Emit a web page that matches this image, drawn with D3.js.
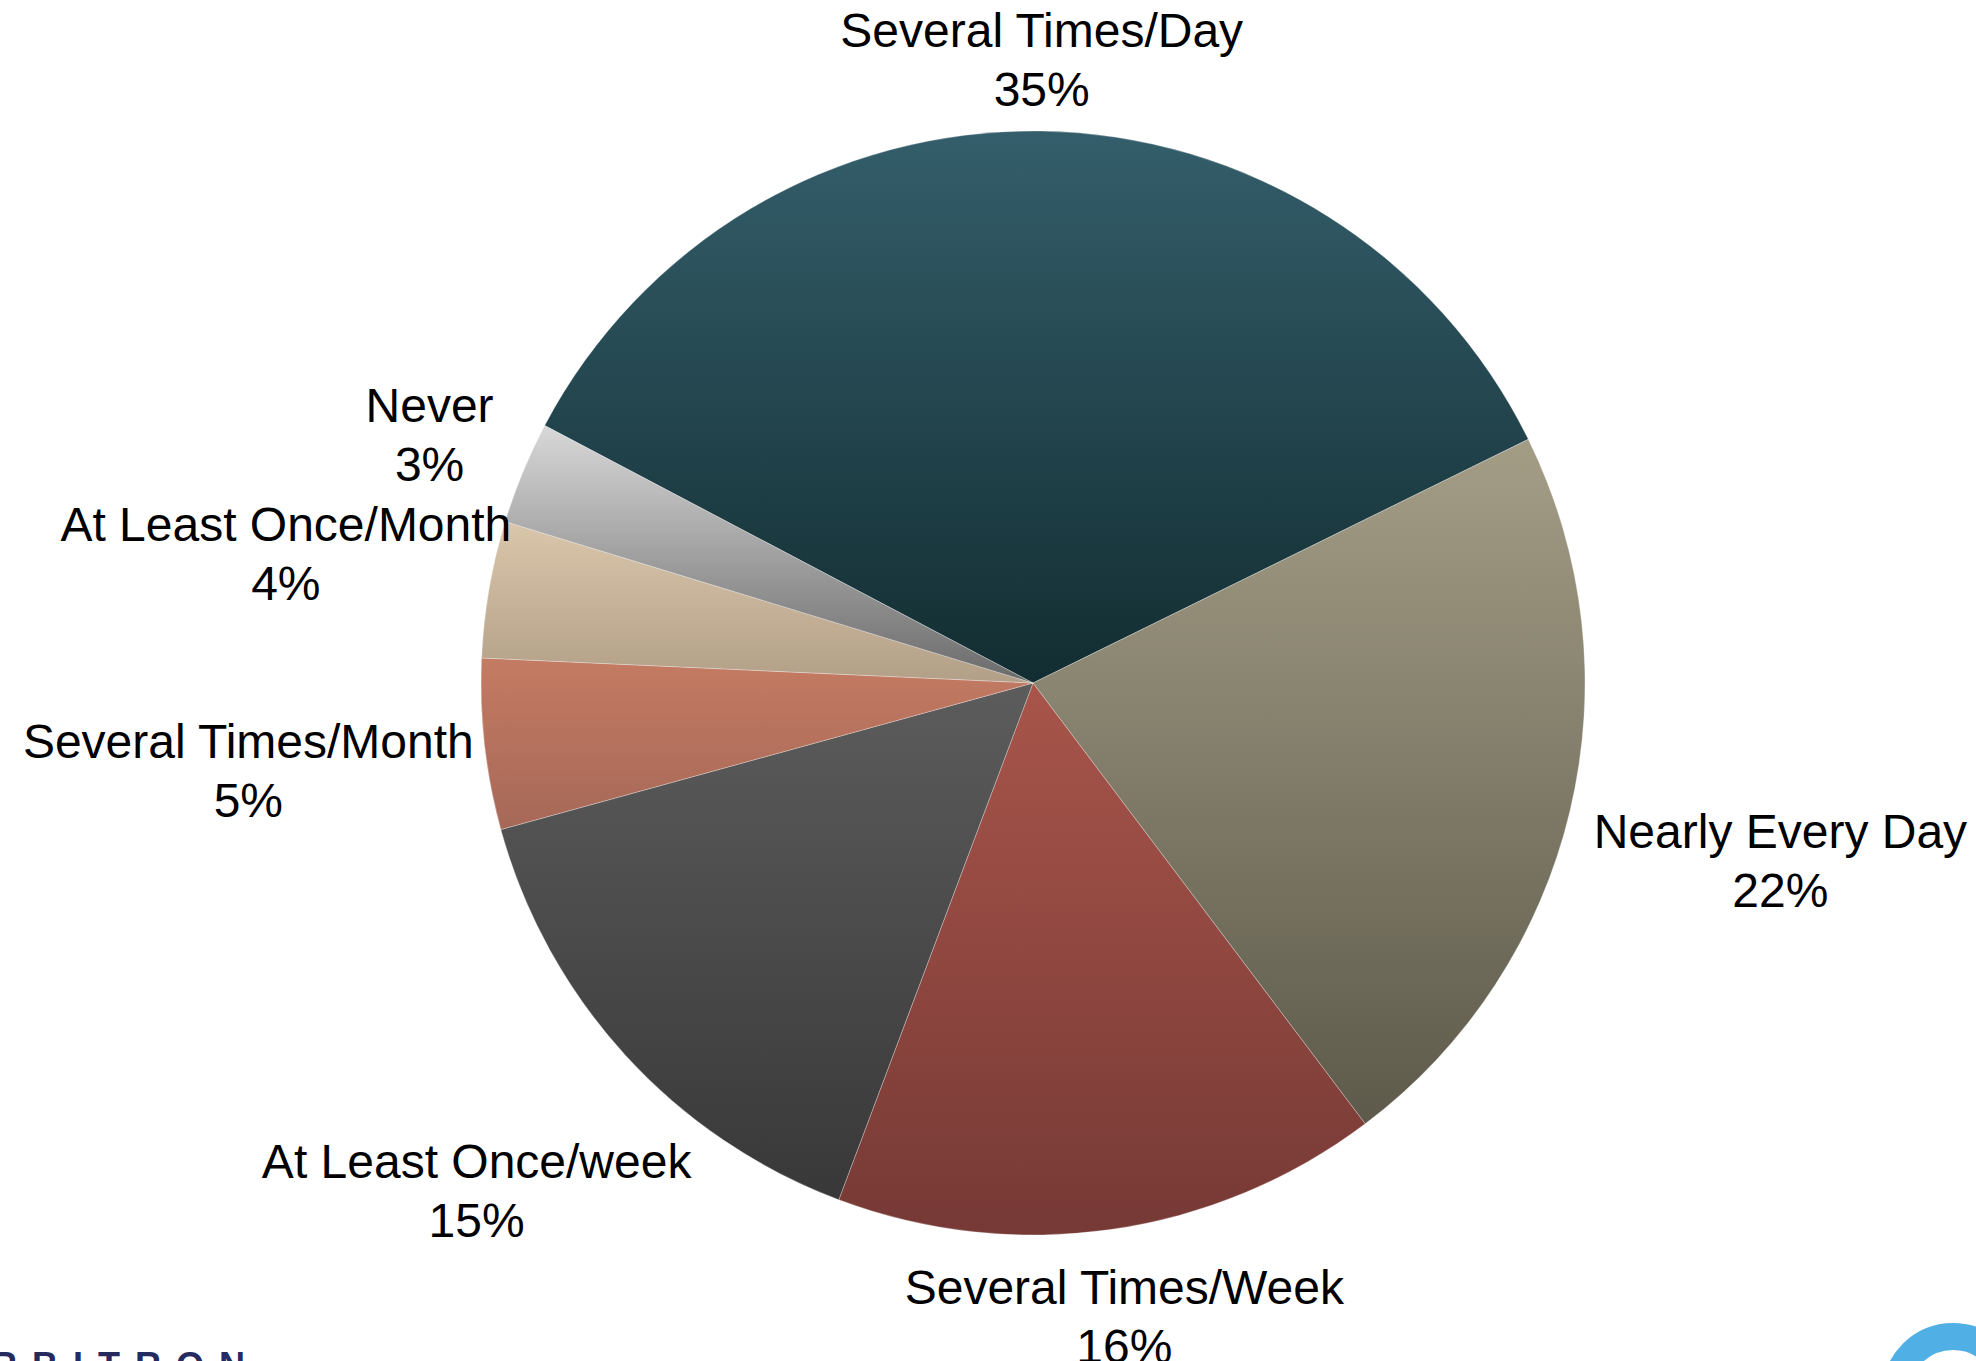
<!DOCTYPE html>
<html>
<head>
<meta charset="utf-8">
<script src="https://cdn.jsdelivr.net/npm/d3@7"></script>
<style>
  html, body { margin: 0; padding: 0; background: #ffffff; }
  svg { display: block; }
</style>
</head>
<body>
<svg id="chart" width="1976" height="1361"></svg>
<script>
// ---- data ----
const categories = [
  "Several Times/Day",
  "Nearly Every Day",
  "Several Times/Week",
  "At Least Once/week",
  "Several Times/Month",
  "At Least Once/Month",
  "Never"
];
const values = [35, 22, 16, 15, 5, 4, 3];
const valueLabels = ["35%", "22%", "16%", "15%", "5%", "4%", "3%"];
const colorTop    = ["#345e6b", "#a49d86", "#a8554a", "#5c5c5c", "#c47b63", "#d9c6ab", "#d8d8d8"];
const colorBottom = ["#122d31", "#5d5a4b", "#763935", "#383838", "#a66857", "#b29f87", "#6a6a6a"];

// ---- layout ----
const W = 1976, H = 1361;
const cx = 1033, cy = 683, R = 552;
const startDeg = -62.2;
const fontSize = 48, lineH = 59;
const font = "'Liberation Sans', Arial, Helvetica, sans-serif";
// radial clearance between the circle and each label box (layout tuning)
const labelGap = [10, 21, -1.5, 3, 7, -26, 19];

const svg = d3.select("#chart");
const defs = svg.append("defs");

const data = categories.map((c, i) => ({ cat: c, value: values[i], label: valueLabels[i], i }));

const pie = d3.pie()
  .value(d => d.value)
  .sort(null)
  .startAngle(startDeg * Math.PI / 180)
  .endAngle(startDeg * Math.PI / 180 + 2 * Math.PI);

const arc = d3.arc().innerRadius(0).outerRadius(R);
const arcs = pie(data);

// gradients per slice (vertical, slice bounding box)
arcs.forEach((a, i) => {
  const g = defs.append("linearGradient")
    .attr("id", "grad" + i)
    .attr("x1", 0).attr("y1", 0).attr("x2", 0).attr("y2", 1);
  g.append("stop").attr("offset", "0%").attr("stop-color", colorTop[i]);
  g.append("stop").attr("offset", "100%").attr("stop-color", colorBottom[i]);
});

const gPie = svg.append("g").attr("transform", `translate(${cx},${cy})`);
gPie.selectAll("path.slice")
  .data(arcs)
  .join("path")
  .attr("class", "slice")
  .attr("d", arc)
  .attr("fill", (d, i) => `url(#grad${i})`)
  .attr("stroke", "rgba(255,255,255,0.35)")
  .attr("stroke-width", 0.8)
  .attr("stroke-linejoin", "round");

// labels: placed outside along mid-angle, box just outside the circle
const gLab = svg.append("g");
arcs.forEach((a, i) => {
  const mid = (a.startAngle + a.endAngle) / 2;
  const t = gLab.append("text")
    .attr("font-family", font)
    .attr("font-size", fontSize)
    .attr("fill", "#000")
    .attr("text-anchor", "middle");
  const l1 = t.append("tspan").text(a.data.cat);
  const l2 = t.append("tspan").text(a.data.label);
  const w = Math.max(l1.node().getComputedTextLength(), l2.node().getComputedTextLength());
  const h = lineH * 2;
  const sx = Math.sin(mid), sy = -Math.cos(mid);
  const dist = R + labelGap[i] + Math.abs(sx) * w / 2 + Math.abs(sy) * h / 2;
  const bx = cx + sx * dist, by = cy + sy * dist;
  l1.attr("x", bx).attr("y", by - lineH / 2).attr("dy", "0.35em");
  l2.attr("x", bx).attr("y", by + lineH / 2).attr("dy", "0.35em");
});

// bottom-left logo (partially cut off)
svg.append("text")
  .attr("x", -50)
  .attr("y", 1378)
  .attr("font-family", font)
  .attr("font-size", 36)
  .attr("font-weight", 600)
  .attr("letter-spacing", 15)
  .attr("fill", "#252b5e")
  .text("ARBITRON");

// bottom-right blue ring (partially cut off)
svg.append("circle")
  .attr("cx", 1953).attr("cy", 1394).attr("r", 57.5)
  .attr("fill", "none")
  .attr("stroke", "#50afe5")
  .attr("stroke-width", 27);
</script>
</body>
</html>
